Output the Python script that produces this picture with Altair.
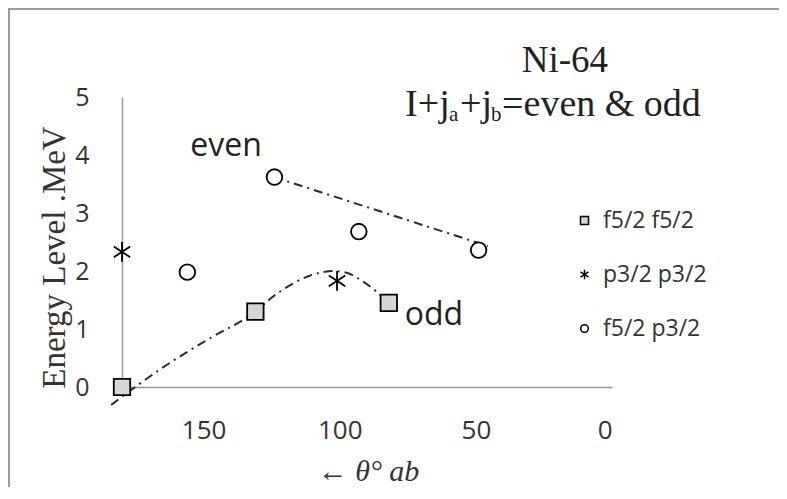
import altair as alt
import pandas as pd

# ---- data ----
series_names = ["f5/2 f5/2", "p3/2 p3/2", "f5/2 p3/2"]

sq_theta = [180, 131, 82]
sq_energy = [0.0, 1.30, 1.45]

st_theta = [180, 101]
st_energy = [2.33, 1.83]

ci_theta = [156, 124, 93, 49]
ci_energy = [1.98, 3.62, 2.68, 2.36]

# trend curves
odd_theta = [184, 163.6, 147.7, 131, 124.5, 117, 111.6, 107.3, 102.5, 97.5, 91.8, 86.4, 82]
odd_energy = [-0.31, 0.38, 0.84, 1.30, 1.56, 1.79, 1.91, 1.97, 2.0, 1.97, 1.83, 1.64, 1.45]
even_theta = [124.2, 45.6]
even_energy = [3.62, 2.43]

x_ticks = [0, 50, 100, 150]
y_ticks = [0, 1, 2, 3, 4, 5]

title1 = "Ni-64"
title2_parts = ["I+j", "a", "+j", "b", "=even & odd"]
ann_labels = ["even", "odd"]
ann_theta = [141.8, 65.4]
ann_energy = [3.98, 1.07]

# ---- tables ----
pts = pd.DataFrame({
    "theta": sq_theta + st_theta + ci_theta,
    "energy": sq_energy + st_energy + ci_energy,
    "series": [series_names[0]] * len(sq_theta)
    + [series_names[1]] * len(st_theta)
    + [series_names[2]] * len(ci_theta),
})
odd_df = pd.DataFrame({"theta": odd_theta, "energy": odd_energy, "order": list(range(len(odd_theta)))})
even_df = pd.DataFrame({"theta": even_theta, "energy": even_energy, "order": list(range(len(even_theta)))})
ann_df = pd.DataFrame({"label": ann_labels, "theta": ann_theta, "energy": ann_energy})

AX = "#999999"

x_enc = alt.X(
    "theta:Q",
    scale=alt.Scale(domain=[0, 180], reverse=True, nice=False, zero=False),
    axis=alt.Axis(
        values=x_ticks, title="← θ° ab", grid=False, ticks=False,
        domainColor=AX, domainWidth=1.5,
        labelFont="Open Sans", labelFontSize=26, labelColor="#333333", labelPadding=30,
        titleFont="Liberation Serif", titleFontStyle="italic", titleFontWeight="normal",
        titleFontSize=30, titleColor="#333333",
        titleX=246, titleY=84, titleAlign="center", titleBaseline="middle",
    ),
)
y_enc = alt.Y(
    "energy:Q",
    scale=alt.Scale(domain=[0, 5], nice=False),
    axis=alt.Axis(
        values=y_ticks, title="Energy Level .MeV", grid=False, ticks=False,
        domainColor=AX, domainWidth=1.5,
        labelFont="Open Sans", labelFontSize=25, labelColor="#333333", labelPadding=33,
        titleFont="Liberation Serif", titleFontWeight="normal", titleFontSize=33,
        titleColor="#333333", titleAngle=270,
        titleX=-68, titleY=160, titleAlign="center", titleBaseline="middle",
    ),
)

dash = [9, 5, 2, 5]

frame_df = pd.DataFrame({"k": [0]})
border_top = alt.Chart(frame_df).mark_rule(stroke="#9a9a9a", strokeWidth=2, clip=False).encode(
    x=alt.value(-114), x2=alt.value(660), y=alt.value(-88)
)
border_left = alt.Chart(frame_df).mark_rule(stroke="#9a9a9a", strokeWidth=2, clip=False).encode(
    x=alt.value(-113), y=alt.value(-89), y2=alt.value(400)
)

odd_line = alt.Chart(odd_df).mark_line(
    color="#2a2a2a", strokeWidth=2, strokeDash=dash, interpolate="monotone", clip=False
).encode(x=x_enc, y=y_enc, order="order:Q")

even_line = alt.Chart(even_df).mark_line(
    color="#2a2a2a", strokeWidth=2, strokeDash=dash, clip=False
).encode(x=x_enc, y=y_enc, order="order:Q")

asterisk = "M0,-1.2L0,1.2M-1,-0.65L1,0.65M-1,0.65L1,-0.65"
circle = "M0.95,0A0.95,0.95 0 1,1 -0.95,0A0.95,0.95 0 1,1 0.95,0Z"

points = alt.Chart(pts).mark_point(
    strokeWidth=1.8, opacity=1, filled=False, size=270
).encode(
    x=x_enc, y=y_enc,
    shape=alt.Shape("series:N", scale=alt.Scale(domain=series_names, range=["square", asterisk, circle]),
                    legend=alt.Legend(title=None)),
    fill=alt.Fill("series:N", scale=alt.Scale(domain=series_names, range=["#d6d6d6", "#000000", "#ffffff"]),
                  legend=alt.Legend(title=None)),
    stroke=alt.Stroke("series:N", scale=alt.Scale(domain=series_names, range=["#000000", "#000000", "#000000"]),
                      legend=alt.Legend(title=None)),
)

ann = alt.Chart(ann_df).mark_text(
    font="Open Sans", fontSize=32, color="#222222", align="center", baseline="alphabetic"
).encode(x=x_enc, y=y_enc, text="label:N")

t_anchor = pd.DataFrame({"theta": [17.3], "energy": [5.43]})
t1 = alt.Chart(t_anchor).mark_text(
    text=title1, font="Liberation Serif", fontSize=37, color="#222222", align="center", baseline="alphabetic", clip=False
).encode(x=x_enc, y=y_enc)

t2_anchor = pd.DataFrame({"theta": [76.0], "energy": [4.67]})
dxs = [0, 44, 55, 86, 97]
sizes = [38, 21, 38, 21, 38]
dys = [0, 5, 0, 5, 0]
t2_layers = []
for part, dx, fs, dy in zip(title2_parts, dxs, sizes, dys):
    t2_layers.append(
        alt.Chart(t2_anchor).mark_text(
            text=part, font="Liberation Serif", fontSize=fs, color="#222222",
            align="left", baseline="alphabetic", dx=dx, dy=dy, clip=False
        ).encode(x=x_enc, y=y_enc)
    )

chart = alt.layer(border_top, border_left, odd_line, even_line, points, ann, t1, *t2_layers).properties(
    width=490, height=290,
    autosize=alt.AutoSizeParams(type="none"),
    padding={"left": 114, "top": 89, "right": 167, "bottom": 100},
).configure_view(stroke=None).configure_legend(
    orient="none", legendX=451, legendY=112,
    labelFont="Open Sans", labelFontSize=23, labelColor="#333333",
    symbolSize=64, symbolStrokeWidth=1.5,
    rowPadding=30, labelOffset=7,
)

chart.save("out.html", embed_options={"renderer": "svg", "actions": False})
